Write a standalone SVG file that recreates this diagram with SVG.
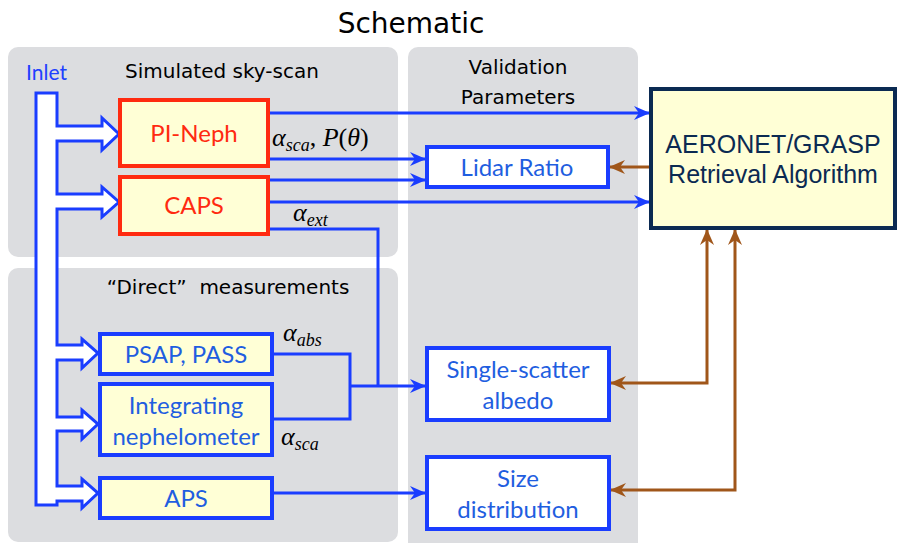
<svg xmlns="http://www.w3.org/2000/svg" width="899" height="543" viewBox="0 0 899 543">
<defs>
<style>
.panel{fill:#dcdde0}
.hdr{font-family:"DejaVu Sans",sans-serif;fill:#000;text-anchor:middle}
.bt{font-family:Lato,"Open Sans",sans-serif;text-anchor:middle;font-size:24px}
.red{fill:#ffffd6;stroke:#ff2a10;stroke-width:4}
.ybox{fill:#ffffd6;stroke:#1a3dff;stroke-width:4}
.wbox{fill:#ffffff;stroke:#1a3dff;stroke-width:4}
.blue{fill:none;stroke:#1a3dff;stroke-width:3}
.brown{fill:none;stroke:#a0561a;stroke-width:3}
.math{font-family:"Liberation Serif","DejaVu Serif",serif;font-style:italic;fill:#000;font-size:26px}
.sub{font-size:18px}
</style>
<marker id="ab" viewBox="0 0 16 14" refX="16" refY="7" markerWidth="16" markerHeight="14" markerUnits="userSpaceOnUse" orient="auto">
<path d="M0,0 L16,7 L0,14 L5,7 z" fill="#1a3dff"/>
</marker>
<marker id="ar" viewBox="0 0 16 14" refX="16" refY="7" markerWidth="16" markerHeight="14" markerUnits="userSpaceOnUse" orient="auto-start-reverse">
<path d="M0,0 L16,7 L0,14 L5,7 z" fill="#a0561a"/>
</marker>
</defs>
<rect width="899" height="543" fill="#ffffff"/>
<text class="hdr" x="411" y="33" font-size="28">Schematic</text>
<g id="panels">
<rect class="panel" x="8" y="47" width="390" height="210" rx="10"/>
<rect class="panel" x="408" y="47" width="230" height="510" rx="10"/>
<rect class="panel" x="8" y="268" width="390" height="274" rx="10"/>
<text class="hdr" x="222" y="78" font-size="20">Simulated sky-scan</text>
<text class="hdr" x="518" y="74" font-size="20">Validation</text>
<text class="hdr" x="518" y="104" font-size="20">Parameters</text>
<text class="hdr" x="228" y="294" font-size="20" xml:space="preserve">“Direct”  measurements</text>
</g>
<g id="inlet">
<text x="26" y="80" font-family="Lato,'Open Sans',sans-serif" font-size="21" fill="#2040ff">Inlet</text>
<path d="M36,93 H57 V126 H102 V118 L119,134 L102,150 V141 H57 V194 H102 V187 L119,202 L102,217 V209 H57 V345 H82 V339 L98,353 L82,368 V360 H57 V417 H82 V410 L98,424 L82,439 V431 H57 V486 H82 V479 L98,493 L82,508 V501 H57 V505 H36 Z" fill="#ffffff" stroke="#1a3dff" stroke-width="3" stroke-linejoin="miter"/>
</g>
<g id="connectors">
<path class="blue" d="M268,113 H650" marker-end="url(#ab)"/>
<path class="blue" d="M268,159 H426" marker-end="url(#ab)"/>
<path class="blue" d="M268,180 H426" marker-end="url(#ab)"/>
<path class="blue" d="M268,202 H650" marker-end="url(#ab)"/>
<path class="blue" d="M268,229 H378 V386"/>
<path class="blue" d="M272,354 H350 V419 H272"/>
<path class="blue" d="M350,386 H426" marker-end="url(#ab)"/>
<path class="blue" d="M272,493 H426" marker-end="url(#ab)"/>
<path class="brown" d="M650,167 H609" marker-end="url(#ar)"/>
<path class="brown" d="M707,229 V383 H610" marker-start="url(#ar)" marker-end="url(#ar)"/>
<path class="brown" d="M735,229 V490 H610" marker-start="url(#ar)" marker-end="url(#ar)"/>
</g>
<g id="labels">
<text class="math" x="272" y="146">α<tspan class="sub" dy="5">sca</tspan><tspan dy="-5" font-style="normal">, </tspan>P<tspan font-style="normal">(</tspan>θ<tspan font-style="normal">)</tspan></text>
<text class="math" x="293" y="221">α<tspan class="sub" dy="5">ext</tspan></text>
<text class="math" x="283" y="341">α<tspan class="sub" dy="5">abs</tspan></text>
<text class="math" x="281" y="445">α<tspan class="sub" dy="5">sca</tspan></text>
</g>
<g id="pineph">
<rect class="red" x="120" y="100" width="148" height="66"/>
<text class="bt" x="194" y="142" fill="#ff2a10">PI-Neph</text>
</g>
<g id="caps">
<rect class="red" x="120" y="177" width="148" height="57"/>
<text class="bt" x="194" y="214" fill="#ff2a10">CAPS</text>
</g>
<g id="psap">
<rect class="ybox" x="100" y="334" width="172" height="40"/>
<text class="bt" x="186" y="363" fill="#1f5ee0">PSAP, PASS</text>
</g>
<g id="neph">
<rect class="ybox" x="100" y="384" width="172" height="71"/>
<text class="bt" x="186" y="414" fill="#1f5ee0">Integrating</text>
<text class="bt" x="186" y="445" fill="#1f5ee0">nephelometer</text>
</g>
<g id="aps">
<rect class="ybox" x="100" y="478" width="172" height="40"/>
<text class="bt" x="186" y="507" fill="#1f5ee0">APS</text>
</g>
<g id="lidar">
<rect class="wbox" x="427" y="147" width="181" height="40"/>
<text class="bt" x="517" y="176" fill="#1f5ee0">Lidar Ratio</text>
</g>
<g id="ssa">
<rect class="wbox" x="427" y="348" width="182" height="72"/>
<text class="bt" x="518" y="378" fill="#1f5ee0">Single-scatter</text>
<text class="bt" x="518" y="409" fill="#1f5ee0">albedo</text>
</g>
<g id="size">
<rect class="wbox" x="427" y="457" width="182" height="72"/>
<text class="bt" x="518" y="487" fill="#1f5ee0">Size</text>
<text class="bt" x="518" y="518" fill="#1f5ee0">distribution</text>
</g>
<g id="aeronet">
<rect x="651" y="89" width="244" height="139" fill="#ffffd6" stroke="#0b2a52" stroke-width="4"/>
<text x="773" y="153" font-family="'Liberation Sans',Arial,sans-serif" font-size="25" fill="#0b2a52" text-anchor="middle">AERONET/GRASP</text>
<text x="773" y="183" font-family="'Liberation Sans',Arial,sans-serif" font-size="25" fill="#0b2a52" text-anchor="middle">Retrieval Algorithm</text>
</g>
</svg>
